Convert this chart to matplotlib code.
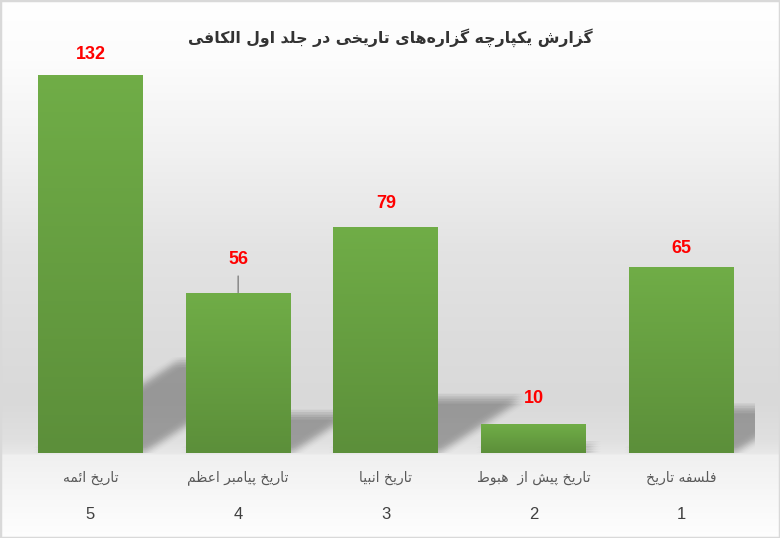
import numpy as np
import matplotlib
matplotlib.use("Agg")
import matplotlib.pyplot as plt
from matplotlib.patches import Polygon, Rectangle

# Data, in the order the bars appear from left to right
numbers = ["5", "4", "3", "2", "1"]
categories = ["تاریخ ائمه", "تاریخ پیامبر اعظم", "تاریخ انبیا",
              "تاریخ پیش از  هبوط", "فلسفه تاریخ"]
values = [132, 56, 79, 10, 65]
title = "گزارش یکپارچه گزاره\u200cهای تاریخی در جلد اول الکافی"

# label placement (pixels above bar top) and leader lines
label_offsets = [20.7, 33.4, 23.7, 26.0, 18.3]
leaders = [False, True, False, False, False]

# Arabic presentation forms: isolated, final, initial, medial
FORMS = {
    "\u0627": ("\uFE8D", "\uFE8E", None, None),
    "\u0626": ("\uFE89", "\uFE8A", "\uFE8B", "\uFE8C"),
    "\u0628": ("\uFE8F", "\uFE90", "\uFE91", "\uFE92"),
    "\u067E": ("\uFB56", "\uFB57", "\uFB58", "\uFB59"),
    "\u062A": ("\uFE95", "\uFE96", "\uFE97", "\uFE98"),
    "\u062C": ("\uFE9D", "\uFE9E", "\uFE9F", "\uFEA0"),
    "\u0686": ("\uFB7A", "\uFB7B", "\uFB7C", "\uFB7D"),
    "\u062E": ("\uFEA5", "\uFEA6", "\uFEA7", "\uFEA8"),
    "\u062F": ("\uFEA9", "\uFEAA", None, None),
    "\u0631": ("\uFEAD", "\uFEAE", None, None),
    "\u0632": ("\uFEAF", "\uFEB0", None, None),
    "\u0698": ("\uFB8A", "\uFB8B", None, None),
    "\u0633": ("\uFEB1", "\uFEB2", "\uFEB3", "\uFEB4"),
    "\u0634": ("\uFEB5", "\uFEB6", "\uFEB7", "\uFEB8"),
    "\u0637": ("\uFEC1", "\uFEC2", "\uFEC3", "\uFEC4"),
    "\u0638": ("\uFEC5", "\uFEC6", "\uFEC7", "\uFEC8"),
    "\u0639": ("\uFEC9", "\uFECA", "\uFECB", "\uFECC"),
    "\u0641": ("\uFED1", "\uFED2", "\uFED3", "\uFED4"),
    "\u06A9": ("\uFB8E", "\uFB8F", "\uFB90", "\uFB91"),
    "\u06AF": ("\uFB92", "\uFB93", "\uFB94", "\uFB95"),
    "\u0644": ("\uFEDD", "\uFEDE", "\uFEDF", "\uFEE0"),
    "\u0645": ("\uFEE1", "\uFEE2", "\uFEE3", "\uFEE4"),
    "\u0646": ("\uFEE5", "\uFEE6", "\uFEE7", "\uFEE8"),
    "\u0647": ("\uFEE9", "\uFEEA", "\uFEEB", "\uFEEC"),
    "\u0648": ("\uFEED", "\uFEEE", None, None),
    "\u06CC": ("\uFBFC", "\uFBFD", "\uFBFE", "\uFBFF"),
}


def shape(text) -> str:
    """
    Minimal Persian shaping: picks contextual forms and reverses to visual order
    """
    text = text.replace("\u064A", "\u06CC").replace("\u0643", "\u06A9")
    chars = list(text)
    out = []
    for i, c in enumerate(chars):
        if c not in FORMS:
            if c != "\u200c":
                out.append(c)
            continue
        prev = chars[i - 1] if i > 0 else None
        nxt = chars[i + 1] if i + 1 < len(chars) else None
        join_prev = prev in FORMS and FORMS[prev][2] is not None
        join_next = FORMS[c][2] is not None and nxt in FORMS
        iso, fin, ini, med = FORMS[c]
        if join_prev and join_next:
            out.append(med)
        elif join_prev:
            out.append(fin)
        elif join_next:
            out.append(ini)
        else:
            out.append(iso)
    return "".join(reversed(out))


def gray_background(fig):
    """
    Chart area gradient and thin frame, drawn behind everything
    """
    bg = fig.add_axes([0, 0, 1, 1], zorder=-5)
    stops_y = [0, 60, 150, 250, 330, 400, 440, 453, 455, 500, 538]
    stops_g = [255, 252, 241, 227, 221, 217, 224, 232, 240, 248, 254]
    rows = np.interp(np.arange(538), stops_y, stops_g) / 255.0
    img = np.repeat(rows[:, None, None], 3, axis=2)
    bg.imshow(img, extent=(0, 1, 0, 1), aspect="auto", origin="upper")
    bg.add_patch(Rectangle((0, 0), 1, 1, transform=bg.transAxes, fill=False,
                           edgecolor="#d9d9d9", linewidth=2.5))
    bg.set_axis_off()


def plot_chart():
    fig = plt.figure(figsize=(7.8, 5.38), dpi=100)
    gray_background(fig)
    ax = fig.add_axes([0.0213, 0.158, 0.9468, 0.7453])
    ax.set_facecolor("none")
    ax.set_xlim(-0.5, len(values) - 0.5)
    ax.set_ylim(0, 140)
    for s in ax.spines.values():
        s.set_visible(False)
    ax.set_yticks([])
    ax.set_xticks([])

    x = np.arange(len(values))
    width = 0.71
    px_x = 0.9468 * 780 / len(values)
    px_y = 0.7453 * 538 / 140

    # Soft perspective shadows behind the bars
    offs = np.linspace(-5, 5, 5)
    for xi, v in zip(x, values):
        h = 0.24 * v
        dx = h * px_y / 0.65 / px_x
        xl, xr = xi - width / 2, xi + width / 2
        for ox in offs:
            for oy in offs:
                sx, sy = ox / px_x, oy / px_y
                pts = [(xl + sx, 0 + sy), (xr + sx, 0 + sy),
                       (xr + dx + sx, h + sy), (xl + dx + sx, h + sy)]
                ax.add_patch(Polygon(pts, closed=True, facecolor="black",
                                     edgecolor="none", alpha=0.013, zorder=1))

    bars = ax.bar(x, values, width=width, color="#66a041", zorder=2)
    grad = np.linspace(0, 1, 100)[:, None]
    top_c = np.array([0x70, 0xad, 0x47]) / 255
    bot_c = np.array([0x5c, 0x8f, 0x3a]) / 255
    gimg = top_c * (1 - grad[..., None]) + bot_c * grad[..., None]
    for b in bars:
        im = ax.imshow(gimg, extent=(b.get_x(), b.get_x() + b.get_width(), 0, b.get_height()),
                       aspect="auto", origin="upper", zorder=3)
        im.set_clip_path(b)

    # Value labels
    for xi, v, off, lead in zip(x, values, label_offsets, leaders):
        arrow = None
        if lead:
            arrow = dict(arrowstyle="-", color="#808080", lw=1.0, shrinkA=4, shrinkB=0)
        ax.annotate(str(v), xy=(xi, v), xytext=(0, off), textcoords="offset pixels",
                    ha="center", va="center", color="#ff0000", fontsize=13,
                    fontweight="bold", family="Liberation Sans", arrowprops=arrow,
                    zorder=5)

    # Category names and numbers below the bars
    for xi, cat, num in zip(x, categories, numbers):
        ax.annotate(shape(cat), xy=(xi, 0), xytext=(0, -25), textcoords="offset pixels",
                    ha="center", va="center", color="#595959", fontsize=10,
                    family="DejaVu Sans", annotation_clip=False)
        ax.annotate(num, xy=(xi, 0), xytext=(0, -62), textcoords="offset pixels",
                    ha="center", va="center", color="#404040", fontsize=12,
                    family="Liberation Sans", annotation_clip=False)

    fig.text(0.5, 1 - 38 / 538, shape(title), ha="center", va="center",
             fontsize=11.3, fontweight="bold", color="#333333", family="DejaVu Sans")

    fig.savefig("out.png", dpi=100)


if __name__ == "__main__":
    plot_chart()
